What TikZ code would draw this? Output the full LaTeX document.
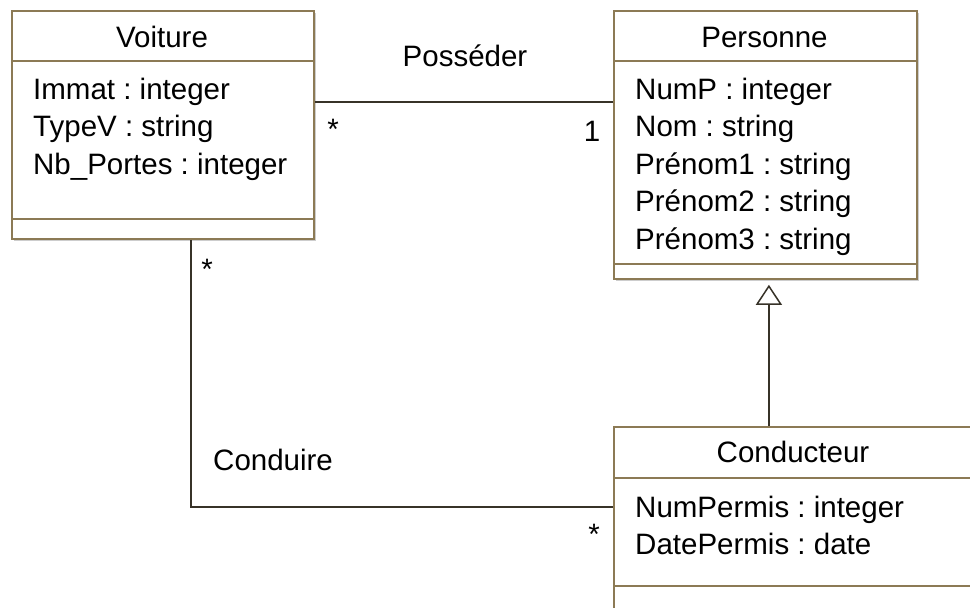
\documentclass[tikz,border=0pt]{standalone}
\usepackage{fontspec}
\setmainfont{Liberation Sans}
\frenchspacing
\usetikzlibrary{arrows.meta,calc}
\definecolor{bord}{RGB}{140,122,85}
\definecolor{conn}{RGB}{55,50,40}
\definecolor{shad}{RGB}{205,205,205}
\begin{document}
\begin{tikzpicture}[x=1pt,y=-1pt,
  classbox/.style={draw=bord, line width=1.8pt, fill=white, anchor=north west, inner sep=0pt},
  divider/.style={draw=bord, line width=1.8pt},
  connline/.style={draw=conn, line width=1.8pt},
  txt/.style={font=\fontsize{29.5}{36}\selectfont\frenchspacing, inner sep=0pt, anchor=base west, text=black},
  ctxt/.style={font=\fontsize{29.5}{36}\selectfont\frenchspacing, inner sep=0pt, anchor=base, text=black}]
\useasboundingbox (0,0) rectangle (970,608);
\clip (0,0) rectangle (970,608);
\fill[white] (0,0) rectangle (970,608);

% shadows
\fill[shad] (14,13) rectangle (316,241);
\fill[shad] (616,13) rectangle (919,281);
\fill[shad] (616,429) rectangle (976,643);

% Voiture
\node[classbox, minimum width=302pt, minimum height=228pt] (voiture) at (11,10) {};
\draw[divider] ([yshift=-51pt]voiture.north west) -- ([yshift=-51pt]voiture.north east);
\draw[divider] ([yshift=-209pt]voiture.north west) -- ([yshift=-209pt]voiture.north east);
\node[ctxt] (vt) at (162,47) {Voiture};
\node[txt] (va1) at (33,99) {Immat : integer};
\node[txt] (va2) at (33,136.5) {TypeV : string};
\node[txt] (va3) at (33,174) {Nb\_Portes : integer};

% Personne
\node[classbox, minimum width=303pt, minimum height=268pt] (personne) at (613,10) {};
\draw[divider] ([yshift=-51pt]personne.north west) -- ([yshift=-51pt]personne.north east);
\draw[divider] ([yshift=-254pt]personne.north west) -- ([yshift=-254pt]personne.north east);
\node[ctxt] (pt) at (764.5,47) {Personne};
\node[txt] (pa1) at (635,99) {NumP : integer};
\node[txt] (pa2) at (635,136.5) {Nom : string};
\node[txt] (pa3) at (635,174) {Prénom1 : string};
\node[txt] (pa4) at (635,211.5) {Prénom2 : string};
\node[txt] (pa5) at (635,249) {Prénom3 : string};

% Conducteur
\node[classbox, minimum width=360pt, minimum height=214pt] (conducteur) at (613,426) {};
\draw[divider] ([yshift=-52pt]conducteur.north west) -- ([yshift=-52pt]conducteur.north east);
\draw[divider] ([yshift=-160pt]conducteur.north west) -- ([yshift=-160pt]conducteur.north east);
\node[ctxt] (ct) at (793,462) {Conducteur};
\node[txt] (ca1) at (635,517) {NumPermis : integer};
\node[txt] (ca2) at (635,554) {DatePermis : date};

% Posseder
\draw[connline] ([yshift=-92pt]voiture.north east) -- ([yshift=-92pt]personne.north west);
\node[ctxt] (lpos) at (465,66) {Posséder};
\node[ctxt] (m1) at (333,139) {*};
\node[ctxt] (m2) at (592,141) {1};

% Conduire
\draw[connline] ([xshift=28pt]voiture.south) |- ([yshift=-81pt]conducteur.north west);
\node[txt] (lcond) at (213,470) {Conduire};
\node[ctxt] (m3) at (207,279) {*};
\node[ctxt] (m4) at (594,544) {*};

% Generalisation
\draw[connline, -{Triangle[open, width=26pt, length=20pt, line width=1.5pt]}, shorten >=5pt]
  ($(conducteur.north -| personne.south)+(3.5,0)$) -- ($(personne.south)+(3.5,0)$);
\end{tikzpicture}
\end{document}
